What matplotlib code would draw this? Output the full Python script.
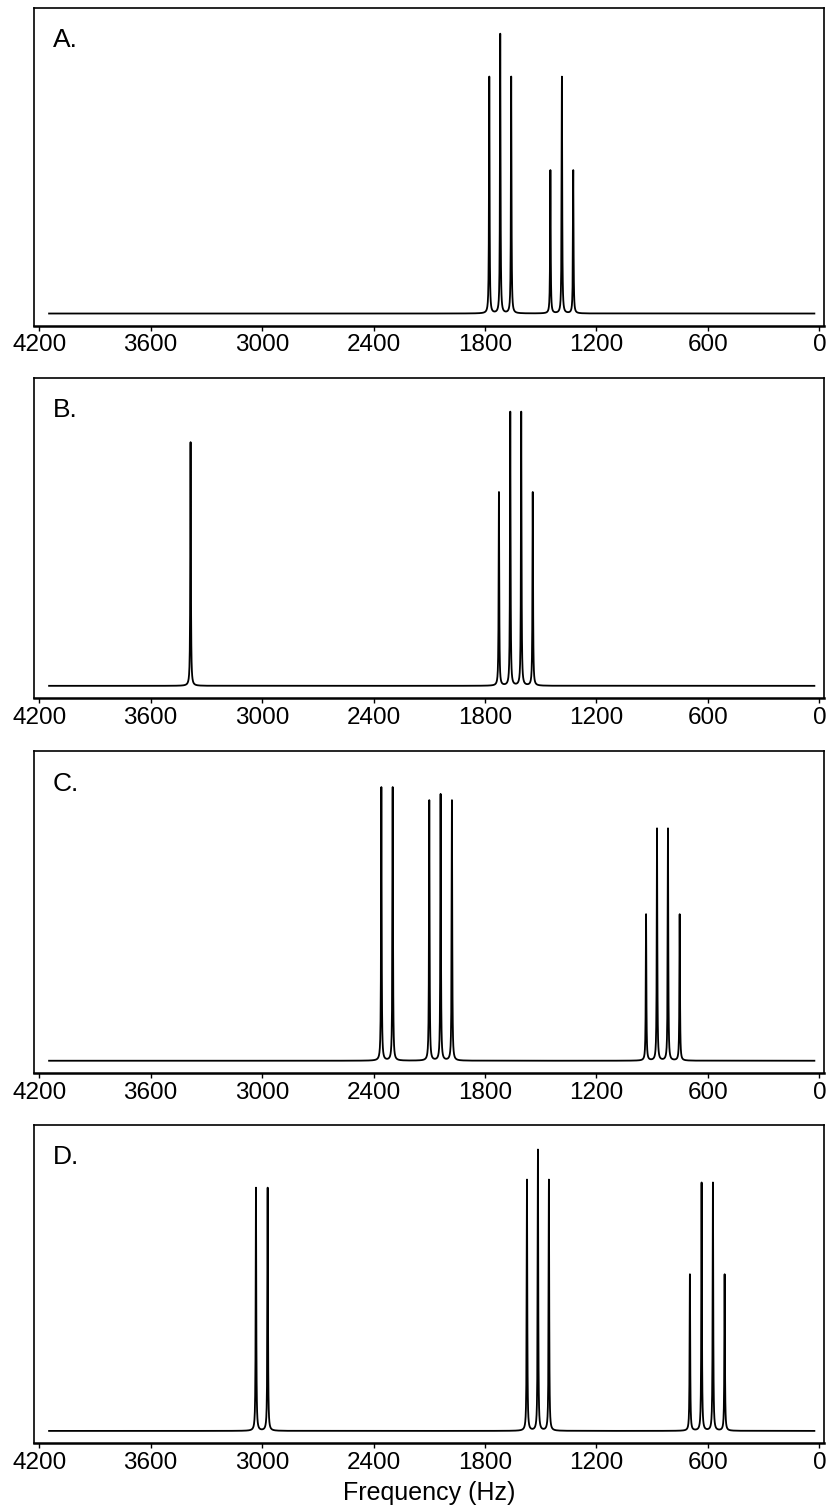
import numpy as np
import matplotlib.pyplot as plt

plt.rcParams["font.family"] = ["Liberation Sans", "DejaVu Sans"]

# posições (Hz) e alturas aparentes dos picos
picos_a_hz = [1777, 1718, 1659, 1448, 1386, 1325]
picos_a_alt = [238, 281, 238, 144, 238, 144]

picos_b_hz = [3385, 1725, 1664, 1605, 1543]
picos_b_alt = [243, 193, 273, 273, 193]

picos_c_hz = [2358, 2297, 2100, 2039, 1978, 933, 874, 815, 752]
picos_c_alt = [271, 271, 258, 264, 258, 145, 230, 230, 145]

picos_d_hz = [3033, 2970, 1574, 1515, 1456, 697, 634, 573, 510]
picos_d_alt = [244, 244, 252, 282, 252, 157, 249, 249, 157]

rotulos = ["A.", "B.", "C.", "D."]
ticks_hz = [4200, 3600, 3000, 2400, 1800, 1200, 600, 0]

faixa_hz = (4147, 27)
meia_largura = 1.8  # Hz

# caixas dos eixos, em fração da figura (esq, base, larg, alt)
caixas = [
    (0.0411, 0.7840, 0.9553, 0.2105),
    (0.0411, 0.5372, 0.9553, 0.2123),
    (0.0411, 0.2887, 0.9553, 0.2136),
    (0.0411, 0.0435, 0.9553, 0.2109),
]


def espectro(freq, posicoes, alturas, gama=meia_largura):
    """Soma de lorentzianas com as alturas dadas."""
    y = np.zeros_like(freq)
    for p, h in zip(posicoes, alturas):
        y += h * gama**2 / ((freq - p) ** 2 + gama**2)
    return y


freq = np.arange(faixa_hz[1], faixa_hz[0], 0.2)
paineis = [
    (picos_a_hz, picos_a_alt),
    (picos_b_hz, picos_b_alt),
    (picos_c_hz, picos_c_alt),
    (picos_d_hz, picos_d_alt),
]

fig = plt.figure(figsize=(8.27, 15.09), dpi=100)

for i, ((pos, alt), caixa) in enumerate(zip(paineis, caixas)):
    ax = fig.add_axes(caixa)
    ax.plot(freq, espectro(freq, pos, alt), color="black", lw=1.3)
    ax.set_xlim(4228, -25)
    ax.set_ylim(-12.5, 307)
    ax.set_yticks([])
    ax.set_xticks(ticks_hz)
    ax.tick_params(axis="x", direction="out", length=3.5, width=1, pad=2.5, labelsize=17.5)
    for lado in ["top", "left", "right"]:
        ax.spines[lado].set_linewidth(1.2)
    ax.spines["bottom"].set_linewidth(1.8)
    ax.text(0.024, 0.877, rotulos[i], transform=ax.transAxes, fontsize=19,
            ha="left", va="baseline")
    if i == len(paineis) - 1:
        ax.set_xlabel("Frequency (Hz)", fontsize=18, labelpad=5)

fig.savefig("out.png", dpi=100)
